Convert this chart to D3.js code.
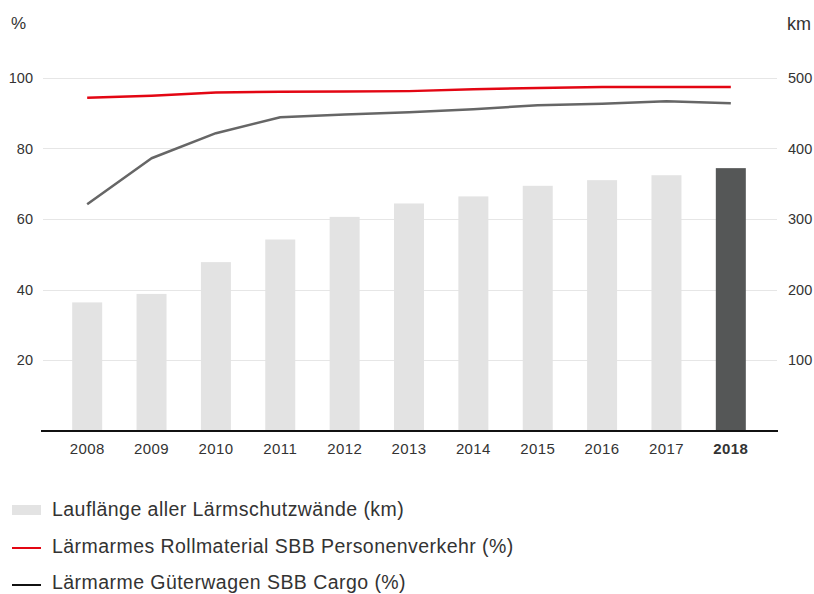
<!DOCTYPE html>
<html>
<head>
<meta charset="utf-8">
<script src="https://cdn.jsdelivr.net/npm/d3@7/dist/d3.min.js"></script>
<style>
html,body{margin:0;padding:0;background:#fff;}
svg{display:block;font-family:"Liberation Sans",Arial,Helvetica,sans-serif;}
</style>
</head>
<body>
<svg id="chart" width="814" height="594"></svg>
<script>
const years = ["2008","2009","2010","2011","2012","2013","2014","2015","2016","2017","2018"];
const wallKm = [182, 194, 239, 271, 303, 322, 332, 347, 355, 362, 372];
const passengerPct = [94.3, 94.9, 95.8, 96.0, 96.1, 96.2, 96.7, 97.1, 97.4, 97.4, 97.4];
const cargoPct = [64.2, 77.2, 84.3, 88.8, 89.6, 90.2, 91.1, 92.2, 92.6, 93.3, 92.8];
const pctTicks = [20, 40, 60, 80, 100];
const kmTicks = [100, 200, 300, 400, 500];
const legendLabels = [
  "Lauflänge aller Lärmschutzwände (km)",
  "Lärmarmes Rollmaterial SBB Personenverkehr (%)",
  "Lärmarme Güterwagen SBB Cargo (%)"
];

const svg = d3.select("#chart");
const x = d3.scaleBand().domain(years).range([55, 763]).paddingInner(0.534).paddingOuter(0.267);
const yPct = d3.scaleLinear().domain([0, 100]).range([431, 77.7]);
const yKm = d3.scaleLinear().domain([0, 500]).range([431, 77.7]);

// gridlines
svg.append("g").selectAll("line").data(pctTicks).join("line")
  .attr("x1", 43).attr("x2", 777)
  .attr("y1", d => Math.round(yPct(d)) + 0.5).attr("y2", d => Math.round(yPct(d)) + 0.5)
  .attr("stroke", "#e6e6e6").attr("stroke-width", 1);

// bars
svg.append("g").selectAll("rect").data(years).join("rect")
  .attr("x", d => x(d)).attr("width", x.bandwidth())
  .attr("y", (d, i) => yKm(wallKm[i]))
  .attr("height", (d, i) => yKm(0) - yKm(wallKm[i]))
  .attr("fill", (d, i) => i === years.length - 1 ? "#555757" : "#e3e3e3");

// baseline
svg.append("line").attr("x1", 41).attr("x2", 778).attr("y1", 431).attr("y2", 431)
  .attr("stroke", "#111").attr("stroke-width", 2);

// lines
const cx = d => x(d) + x.bandwidth() / 2;
const lineGen = arr => d3.line().x((d) => cx(d)).y((d, i) => yPct(arr[i]))(years);
svg.append("path").attr("d", lineGen(cargoPct)).attr("fill", "none")
  .attr("stroke", "#666666").attr("stroke-width", 2.5).attr("stroke-linejoin", "round");
svg.append("path").attr("d", lineGen(passengerPct)).attr("fill", "none")
  .attr("stroke", "#e30613").attr("stroke-width", 2.5).attr("stroke-linejoin", "round");

// left axis labels
const leftAxis = d3.axisLeft(yPct).tickValues(pctTicks).tickSize(0).tickPadding(0);
const gl = svg.append("g").attr("transform", "translate(33,0)").call(leftAxis);
gl.select(".domain").remove();
gl.selectAll("text").attr("font-size", "14.5px").attr("fill", "#333").attr("font-family", "Liberation Sans, Arial, sans-serif");

const rightAxis = d3.axisRight(yKm).tickValues(kmTicks).tickSize(0).tickPadding(0);
const gr = svg.append("g").attr("transform", "translate(788,0)").call(rightAxis);
gr.select(".domain").remove();
gr.selectAll("text").attr("font-size", "14.5px").attr("fill", "#333").attr("font-family", "Liberation Sans, Arial, sans-serif");

// x axis labels
const bottomAxis = d3.axisBottom(x).tickSize(0).tickPadding(0);
const gb = svg.append("g").attr("transform", "translate(0,443)").call(bottomAxis);
gb.select(".domain").remove();
gb.selectAll("text").attr("font-size", "15px").attr("fill", "#333").attr("dy", "0.71em")
  .attr("letter-spacing", "0.4px")
  .attr("font-family", "Liberation Sans, Arial, sans-serif")
  .attr("font-weight", d => d === "2018" ? "bold" : "normal");

// unit labels
svg.append("text").attr("x", 11).attr("y", 29).attr("font-size", "17px").attr("fill", "#333").text("%");
svg.append("text").attr("x", 811).attr("y", 30).attr("text-anchor", "end").attr("font-size", "18px").attr("fill", "#333").text("km");

// legend
const lg = svg.append("g");
lg.append("rect").attr("x", 12).attr("y", 505).attr("width", 29).attr("height", 10).attr("fill", "#e3e3e3");
lg.append("line").attr("x1", 12).attr("x2", 41).attr("y1", 548).attr("y2", 548).attr("stroke", "#e30613").attr("stroke-width", 2);
lg.append("line").attr("x1", 12).attr("x2", 41).attr("y1", 585).attr("y2", 585).attr("stroke", "#111").attr("stroke-width", 2);
lg.selectAll("text").data(legendLabels).join("text")
  .attr("x", 52).attr("y", (d, i) => 516 + i * 36.5)
  .attr("font-size", "19.5px").attr("letter-spacing", "0.45px").attr("fill", "#333").text(d => d);
</script>
</body>
</html>
